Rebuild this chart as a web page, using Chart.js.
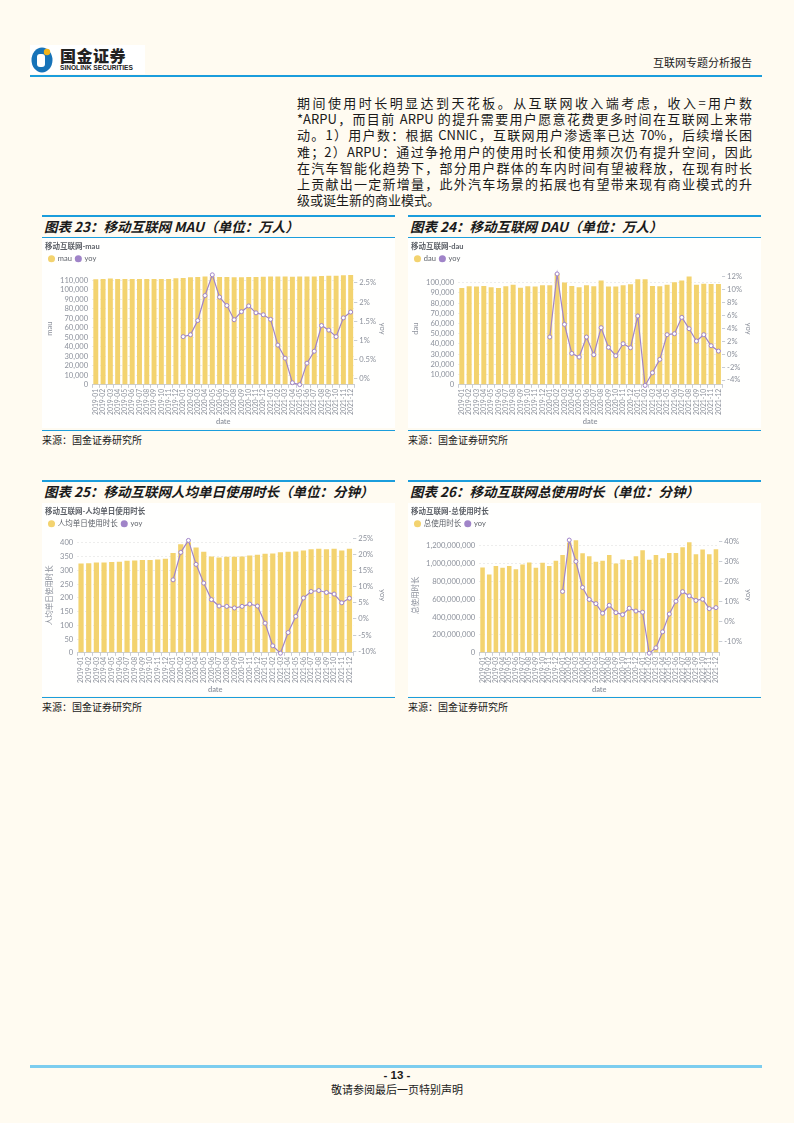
<!DOCTYPE html>
<html lang="zh-CN">
<head>
<meta charset="UTF-8">
<title>互联网专题分析报告</title>
<script src="https://cdn.jsdelivr.net/npm/chart.js@4.4.1/dist/chart.umd.min.js"></script>
<style>
  body { margin: 0; background: #fffbf1; }
  .page { position: relative; width: 794px; height: 1123px; font-family: "Noto Sans CJK SC", sans-serif; color: #1a1a1a; overflow: hidden; }
  .abs { position: absolute; }
  .hline { position: absolute; background: #1b9ddc; }
  .para div { position: absolute; left: 297px; width: 455px; font-size: 13px; height: 16px; line-height: 16px; text-align: justify; text-align-last: justify; white-space: nowrap; }
  .ctitle { position: absolute; font-size: 13.5px; font-weight: 700; font-style: italic; line-height: 20px; white-space: nowrap; }
  .src { position: absolute; font-size: 10px; line-height: 12px; }
  .panel { position: absolute; background: #fffffe; }
</style>
</head>
<body>
<div class="page">
  <!-- header -->
  <div class="abs" style="left:30px;top:45px;width:115px;height:29px;background:#fff;">
    <svg class="abs" style="left:1px;top:1px" width="22" height="27" viewBox="0 0 22 27">
      <ellipse cx="11" cy="14" rx="10.5" ry="12.5" fill="#1673b9"/>
      <rect x="6" y="8" width="8" height="13" rx="3" fill="#fff"/>
      <circle cx="16" cy="6" r="3.2" fill="#f2b31a"/>
    </svg>
    <div class="abs" style="left:30px;top:1px;font-size:16px;font-weight:900;line-height:18px;color:#222;letter-spacing:0.5px">国金证券</div>
    <div class="abs" style="left:30px;top:19px;font-family:'Liberation Sans',sans-serif;font-size:6.6px;font-weight:700;line-height:8px;color:#222;">SINOLINK SECURITIES</div>
  </div>
  <div class="abs" style="right:42px;top:55px;font-size:11px;line-height:14px;">互联网专题分析报告</div>
  <div class="hline" style="left:30px;top:75px;width:732px;height:2px;"></div>

  <!-- body text -->
  <div class="para">
    <div style="top:95px">期间使用时长明显达到天花板。从互联网收入端考虑，收入=用户数</div>
    <div style="top:111px">*ARPU，而目前 ARPU 的提升需要用户愿意花费更多时间在互联网上来带</div>
    <div style="top:127px">动。1）用户数：根据 CNNIC，互联网用户渗透率已达 70%，后续增长困</div>
    <div style="top:144px">难；2）ARPU：通过争抢用户的使用时长和使用频次仍有提升空间，因此</div>
    <div style="top:160px">在汽车智能化趋势下，部分用户群体的车内时间有望被释放，在现有时长</div>
    <div style="top:176px">上贡献出一定新增量，此外汽车场景的拓展也有望带来现有商业模式的升</div>
    <div style="top:192px;text-align-last:left">级或诞生新的商业模式。</div>
  </div>

  <!-- row 1 -->
  <div class="hline" style="left:42px;top:215px;width:353px;height:1.5px;"></div>
  <div class="ctitle" style="left:44px;top:216px;">图表 23：移动互联网 MAU（单位：万人）</div>
  <div class="hline" style="left:42px;top:237px;width:353px;height:1px;"></div>
  <div class="panel" style="left:42px;top:238px;width:353px;height:190px;"><canvas id="c1" width="353" height="190"></canvas></div>
  <div class="hline" style="left:42px;top:430px;width:353px;height:1px;"></div>
  <div class="src" style="left:42px;top:434px;">来源：国金证券研究所</div>

  <div class="hline" style="left:408px;top:215px;width:353px;height:1.5px;"></div>
  <div class="ctitle" style="left:410px;top:216px;">图表 24：移动互联网 DAU（单位：万人）</div>
  <div class="hline" style="left:408px;top:237px;width:353px;height:1px;"></div>
  <div class="panel" style="left:408px;top:238px;width:353px;height:190px;"><canvas id="c2" width="353" height="190"></canvas></div>
  <div class="hline" style="left:408px;top:430px;width:353px;height:1px;"></div>
  <div class="src" style="left:408px;top:434px;">来源：国金证券研究所</div>

  <!-- row 2 -->
  <div class="hline" style="left:42px;top:480px;width:353px;height:1.5px;"></div>
  <div class="ctitle" style="left:44px;top:481px;">图表 25：移动互联网人均单日使用时长（单位：分钟）</div>
  <div class="panel" style="left:42px;top:503px;width:353px;height:193px;"><canvas id="c3" width="353" height="193"></canvas></div>
  <div class="hline" style="left:42px;top:697px;width:353px;height:1px;"></div>
  <div class="src" style="left:42px;top:701px;">来源：国金证券研究所</div>

  <div class="hline" style="left:408px;top:480px;width:353px;height:1.5px;"></div>
  <div class="ctitle" style="left:410px;top:481px;">图表 26：移动互联网总使用时长（单位：分钟）</div>
  <div class="panel" style="left:408px;top:503px;width:353px;height:193px;"><canvas id="c4" width="353" height="193"></canvas></div>
  <div class="hline" style="left:408px;top:697px;width:353px;height:1px;"></div>
  <div class="src" style="left:408px;top:701px;">来源：国金证券研究所</div>

  <!-- footer -->
  <div class="abs" style="left:30px;top:1065px;width:732px;height:3px;background:#7ccdef;"></div>
  <div class="abs" style="left:0;width:794px;top:1069px;text-align:center;font-family:'Liberation Sans Narrow','Liberation Sans',sans-serif;font-weight:700;font-size:11.5px;line-height:13px;">- 13 -</div>
  <div class="abs" style="left:0;width:794px;top:1082px;text-align:center;font-size:11px;line-height:14px;">敬请参阅最后一页特别声明</div>
</div>

<script>
  // months on the x axis
  const months = [
    '2019-01','2019-02','2019-03','2019-04','2019-05','2019-06','2019-07','2019-08','2019-09','2019-10','2019-11','2019-12',
    '2020-01','2020-02','2020-03','2020-04','2020-05','2020-06','2020-07','2020-08','2020-09','2020-10','2020-11','2020-12',
    '2021-01','2021-02','2021-03','2021-04','2021-05','2021-06','2021-07','2021-08','2021-09','2021-10','2021-11','2021-12'
  ];

  // MAU (万人) and yoy (%)
  const mau = [
    110800, 111200, 111600, 111300, 111200, 111200, 111300, 111300, 111300, 111200, 111300, 111900,
    112200, 112900, 113300, 113800, 113900, 113400, 113400, 112900, 113000, 113300, 113400, 113500,
    113900, 113900, 113900, 113500, 113900, 113900, 113900, 114400, 114500, 114600, 115000, 115300
  ];
  const mauYoy = [
    null, null, null, null, null, null, null, null, null, null, null, null,
    1.10, 1.15, 1.52, 2.17, 2.71, 2.13, 1.91, 1.54, 1.75, 1.90, 1.72, 1.67,
    1.55, 0.88, 0.54, -0.10, -0.15, 0.41, 0.72, 1.39, 1.27, 1.10, 1.59, 1.74
  ];

  // DAU (万人) and yoy (%)
  const dau = [
    94800, 96400, 96100, 96700, 95400, 94800, 96400, 98000, 95100, 96400, 96100, 97400,
    97400, 108800, 100000, 96700, 95400, 97400, 96400, 102000, 96100, 96100, 97400, 98400,
    103300, 103300, 96700, 96400, 98000, 100300, 102000, 105900, 98000, 99000, 98700, 98700
  ];
  const dauYoy = [
    null, null, null, null, null, null, null, null, null, null, null, null,
    2.63, 12.36, 4.58, 0.10, -0.46, 2.63, -0.10, 4.07, 1.03, -0.26, 1.60, 0.98,
    5.87, -4.84, -2.88, -0.82, 2.99, 3.14, 5.66, 3.91, 2.01, 2.99, 1.29, 0.46
  ];

  // 人均单日使用时长 (分钟) and yoy (%)
  const perUser = [
    325, 326, 329, 329, 331, 332, 335, 336, 338, 338, 340, 343,
    364, 395, 403, 384, 368, 351, 347, 350, 350, 351, 354, 357,
    361, 362, 366, 368, 369, 373, 377, 379, 377, 379, 373, 379
  ];
  const perUserYoy = [
    null, null, null, null, null, null, null, null, null, null, null, null,
    12.1, 20.6, 24.3, 16.9, 11.1, 6.0, 4.0, 3.9, 3.4, 3.9, 4.6, 4.0,
    -1.3, -8.3, -10.6, -4.2, 0.8, 6.5, 8.5, 8.8, 8.2, 7.7, 5.0, 6.4
  ];

  // 总使用时长 (分钟) and yoy (%)
  const total = [
    955e6, 875e6, 970e6, 951e6, 970e6, 936e6, 989e6, 1011e6, 951e6, 1008e6, 970e6, 1030e6,
    1094e6, 1235e6, 1260e6, 1113e6, 1079e6, 1019e6, 1030e6, 1094e6, 1000e6, 1045e6, 1038e6, 1079e6,
    1147e6, 1042e6, 1094e6, 1057e6, 1117e6, 1117e6, 1181e6, 1238e6, 1102e6, 1155e6, 1102e6, 1158e6
  ];
  const totalYoy = [
    null, null, null, null, null, null, null, null, null, null, null, null,
    15.0, 40.7, 30.0, 17.0, 11.0, 8.9, 4.1, 8.1, 4.4, 3.4, 6.6, 5.2,
    4.6, -15.9, -13.2, -5.2, 3.7, 10.1, 14.9, 12.8, 10.5, 11.1, 6.4, 6.9
  ];

  const YELLOW = '#f3d36f';
  const PURPLE = '#a084c8';
  const GREY = '#8d929c';

  Chart.defaults.font.family = 'Lato, "Noto Sans CJK SC", sans-serif';
  Chart.defaults.color = GREY;
  Chart.defaults.animation = false;

  // ticks on whole multiples of the step, inside the axis range
  function stepTicks(step) {
    return (scale) => {
      const out = [];
      const first = Math.ceil(scale.min / step - 1e-9);
      for (let i = first; i * step <= scale.max + 1e-9; i++) {
        out.push({ value: +(i * step).toFixed(6) });
      }
      scale.ticks = out;
    };
  }

  function makeChart(id, o) {
    const ctx = document.getElementById(id);
    return new Chart(ctx, {
      type: 'bar',
      data: {
        labels: months,
        datasets: [
          {
            label: o.name,
            data: o.bars,
            backgroundColor: YELLOW,
            legendColor: YELLOW,
            yAxisID: 'y',
            order: 1,
            barPercentage: 0.68,
            categoryPercentage: 1
          },
          {
            type: 'line',
            label: 'yoy',
            data: o.yoy,
            yAxisID: 'y1',
            order: 0,
            legendColor: PURPLE,
            borderColor: PURPLE,
            borderWidth: 1.2,
            pointRadius: 2,
            pointBorderWidth: 1,
            pointBackgroundColor: '#fff',
            pointBorderColor: PURPLE,
            tension: 0,
            clip: false
          }
        ]
      },
      options: {
        responsive: false,
        devicePixelRatio: 1,
        layout: { padding: { left: 3, right: 6, top: 2, bottom: 2 } },
        plugins: {
          title: {
            display: true, text: o.title, align: 'start', color: '#5b5f66',
            font: { size: 7.5 }, padding: { top: 2, bottom: 0 }
          },
          legend: {
            align: 'start',
            labels: {
              usePointStyle: true, pointStyle: 'circle', boxWidth: 5, boxHeight: 5,
              font: { size: 7.5 }, color: '#5b5f66', padding: 4,
              sort: (a, b) => a.datasetIndex - b.datasetIndex,
              generateLabels: (chart) => {
                const items = Chart.defaults.plugins.legend.labels.generateLabels(chart);
                items.forEach(it => {
                  const ds = chart.data.datasets[it.datasetIndex];
                  it.fillStyle = ds.legendColor;
                  it.strokeStyle = ds.legendColor;
                  it.lineWidth = 0;
                });
                return items;
              }
            }
          },
          tooltip: { enabled: false }
        },
        scales: {
          x: {
            offset: true,
            grid: { display: true, drawOnChartArea: false, offset: true, tickLength: 3, color: '#c9cdd4' },
            border: { color: '#c9cdd4' },
            ticks: { autoSkip: false, maxRotation: 90, minRotation: 90, font: { size: 6.8 }, padding: 1 },
            title: { display: true, text: 'date', font: { size: 7.5, weight: '600' }, padding: { top: 1, bottom: 0 } }
          },
          y: {
            position: 'left',
            min: 0, max: o.yMax,
            afterBuildTicks: stepTicks(o.yStep),
            grid: { color: 'rgba(0,0,0,0.07)', drawTicks: false },
            border: { display: false, dash: [2, 2] },
            ticks: {
              autoSkip: false, font: { size: 7.6 }, padding: 4,
              callback: v => v.toLocaleString('en-US')
            },
            title: { display: true, text: o.yTitle, font: { size: 7.5 }, padding: { top: 0, bottom: 2 } }
          },
          y1: {
            position: 'right',
            min: o.rMin, max: o.rMax,
            afterBuildTicks: stepTicks(o.rStep),
            grid: { drawOnChartArea: false, drawTicks: true, tickLength: 3, color: '#c9cdd4' },
            border: { display: false },
            ticks: {
              autoSkip: false, font: { size: 7.6 }, padding: 2,
              callback: v => (+v.toFixed(2)) + '%'
            },
            title: { display: true, text: 'yoy', font: { size: 7.5 }, padding: { top: 2, bottom: 0 } }
          }
        }
      }
    });
  }

  makeChart('c1', {
    title: '移动互联网-mau', name: 'mau', yTitle: 'mau',
    bars: mau, yoy: mauYoy,
    yMax: 118000, yStep: 10000, rMin: -0.154, rMax: 2.77, rStep: 0.5
  });

  makeChart('c2', {
    title: '移动互联网-dau', name: 'dau', yTitle: 'dau',
    bars: dau, yoy: dauYoy,
    yMax: 109900, yStep: 10000, rMin: -4.74, rMax: 12.58, rStep: 2
  });

  makeChart('c3', {
    title: '移动互联网-人均单日使用时长', name: '人均单日使用时长', yTitle: '人均单日使用时长',
    bars: perUser, yoy: perUserYoy,
    yMax: 420, yStep: 50, rMin: -10.47, rMax: 25.2, rStep: 5
  });

  makeChart('c4', {
    title: '移动互联网-总使用时长', name: '总使用时长', yTitle: '总使用时长',
    bars: total, yoy: totalYoy,
    yMax: 1290e6, yStep: 200e6, rMin: -15.7, rMax: 42.0, rStep: 10
  });
</script>
</body>
</html>
